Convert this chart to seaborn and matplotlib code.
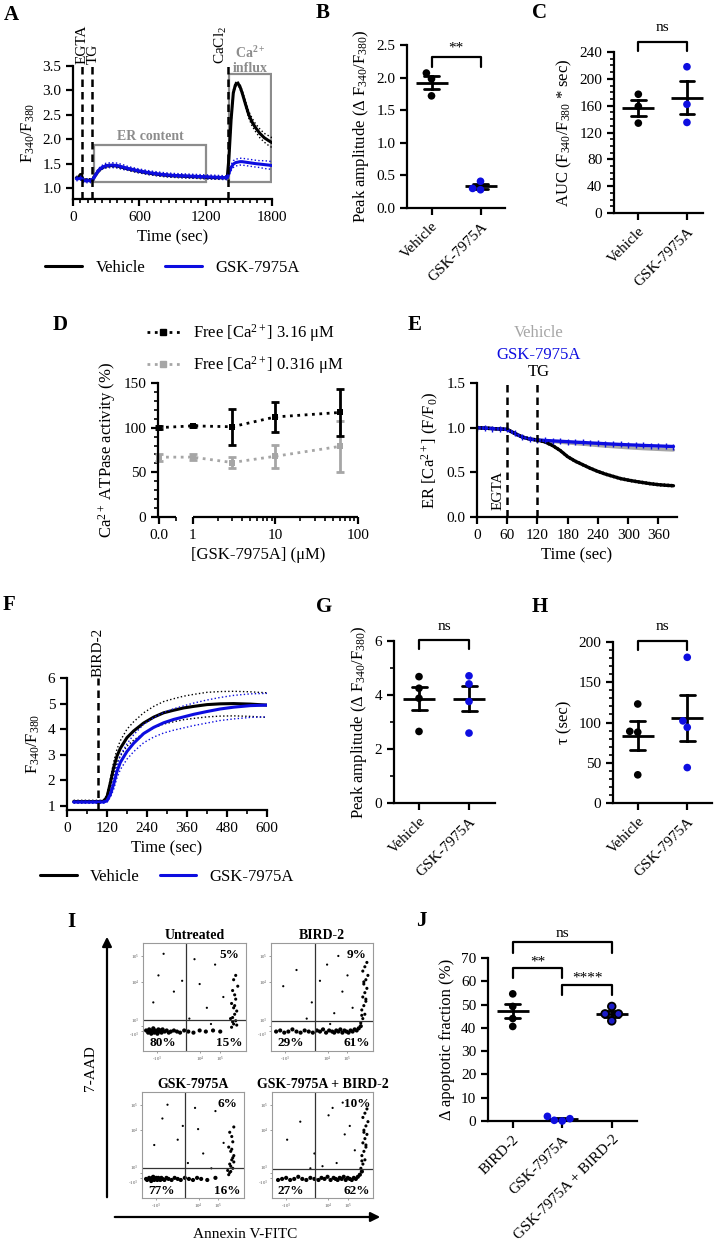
import numpy as np
import pandas as pd
import matplotlib
matplotlib.use("Agg")
import matplotlib.pyplot as plt
import seaborn as sns
from matplotlib.lines import Line2D
from matplotlib.patches import Rectangle, FancyArrowPatch
from matplotlib.ticker import MultipleLocator, AutoMinorLocator, FormatStrFormatter

# ---------------- data ----------------
# A: Fura-2 ratio, ER content / Ca2+ influx protocol
a_time = [30, 50, 65, 75, 85, 100, 130, 160, 175, 200, 230, 260, 300, 350, 400,
          450, 500, 600, 700, 800, 900, 1000, 1100, 1200, 1300, 1395, 1410, 1430,
          1450, 1470, 1490, 1510, 1530, 1560, 1590, 1620, 1650, 1690, 1730, 1770, 1800]
a_vehicle = [1.21, 1.21, 1.27, 1.28, 1.20, 1.16, 1.16, 1.16, 1.17, 1.25, 1.35, 1.41,
             1.45, 1.46, 1.45, 1.42, 1.39, 1.34, 1.30, 1.27, 1.25, 1.24, 1.23, 1.22,
             1.21, 1.21, 1.60, 2.40, 2.95, 3.12, 3.15, 3.08, 2.95, 2.72, 2.50, 2.35,
             2.24, 2.12, 2.03, 1.97, 1.93]
a_vehicle_sem = [0.03, 0.03, 0.03, 0.03, 0.03, 0.03, 0.03, 0.03, 0.03, 0.03, 0.03,
                 0.03, 0.03, 0.03, 0.03, 0.03, 0.03, 0.03, 0.03, 0.03, 0.03, 0.03,
                 0.03, 0.03, 0.03, 0.03, 0.05, 0.06, 0.05, 0.04, 0.04, 0.04, 0.05,
                 0.06, 0.07, 0.08, 0.08, 0.09, 0.09, 0.10, 0.10]
a_gsk = [1.19, 1.19, 1.20, 1.20, 1.17, 1.15, 1.15, 1.15, 1.16, 1.25, 1.36, 1.42,
         1.46, 1.47, 1.46, 1.43, 1.40, 1.35, 1.31, 1.28, 1.26, 1.25, 1.24, 1.23,
         1.22, 1.21, 1.30, 1.42, 1.49, 1.52, 1.53, 1.54, 1.54, 1.53, 1.52, 1.51,
         1.50, 1.49, 1.48, 1.47, 1.46]
a_gsk_sem = [0.04, 0.04, 0.04, 0.04, 0.04, 0.04, 0.04, 0.04, 0.04, 0.04, 0.04, 0.04,
             0.05, 0.05, 0.05, 0.05, 0.04, 0.04, 0.04, 0.04, 0.04, 0.04, 0.04, 0.04,
             0.04, 0.04, 0.05, 0.06, 0.07, 0.07, 0.07, 0.07, 0.07, 0.07, 0.07, 0.07,
             0.07, 0.07, 0.08, 0.08, 0.08]

# B, C: peak amplitude and AUC
b_vehicle = [2.07, 1.98, 1.72]
b_gsk = [0.41, 0.28, 0.30]
c_vehicle = [177, 159, 134]
c_gsk = [218, 162, 135]

# D: SERCA ATPase activity
d_conc = [0, 1, 3, 10, 60]
d_high = [100, 102, 101, 112, 117]
d_high_sem = [1.5, 1.5, 20, 16.5, 26]
d_low = [67, 67, 61, 68, 79]
d_low_sem = [4, 3.5, 6.5, 13, 29]

# E: ER Ca2+ (F/F0)
e_time = [0, 15, 30, 45, 60, 75, 90, 105, 120, 135, 150, 165, 180, 195, 210, 225,
          240, 255, 270, 285, 300, 315, 330, 345, 360, 375, 390]
e_tg = [1.0, 0.995, 0.99, 0.985, 0.98, 0.935, 0.895, 0.872, 0.862, 0.84, 0.80, 0.745,
        0.675, 0.625, 0.585, 0.545, 0.51, 0.48, 0.455, 0.43, 0.413, 0.398, 0.385,
        0.372, 0.362, 0.355, 0.35]
e_tg_sem = 0.012
e_vehicle = [1.0, 0.995, 0.99, 0.985, 0.98, 0.935, 0.895, 0.872, 0.862, 0.853, 0.845,
             0.837, 0.83, 0.822, 0.815, 0.808, 0.80, 0.793, 0.787, 0.781, 0.775, 0.77,
             0.765, 0.761, 0.757, 0.753, 0.75]
e_gsk = [1.0, 0.995, 0.99, 0.985, 0.98, 0.935, 0.895, 0.872, 0.862, 0.857, 0.852,
         0.848, 0.843, 0.838, 0.834, 0.829, 0.825, 0.82, 0.816, 0.812, 0.808, 0.805,
         0.801, 0.798, 0.795, 0.792, 0.789]

# F: BIRD-2 induced Ca2+ rise
f_time = [20, 40, 60, 80, 100, 110, 120, 130, 140, 150, 160, 180, 200, 230, 260, 290,
          320, 350, 380, 420, 460, 500, 550, 600]
f_vehicle = [1.17, 1.17, 1.17, 1.17, 1.17, 1.19, 1.35, 1.90, 2.50, 2.95, 3.25, 3.67,
             3.93, 4.24, 4.47, 4.64, 4.74, 4.83, 4.89, 4.96, 4.99, 5.00, 4.98, 4.94]
f_vehicle_sem = [0.05, 0.05, 0.05, 0.05, 0.05, 0.05, 0.08, 0.15, 0.22, 0.27, 0.30,
                 0.33, 0.36, 0.40, 0.42, 0.44, 0.45, 0.46, 0.47, 0.48, 0.48, 0.48,
                 0.48, 0.48]
f_gsk = [1.15, 1.15, 1.15, 1.15, 1.15, 1.15, 1.20, 1.45, 1.85, 2.35, 2.70, 3.13,
         3.45, 3.83, 4.07, 4.25, 4.38, 4.48, 4.58, 4.69, 4.79, 4.86, 4.92, 4.94]
f_gsk_sem = [0.04, 0.04, 0.04, 0.04, 0.04, 0.04, 0.05, 0.12, 0.20, 0.25, 0.28, 0.30,
             0.33, 0.36, 0.38, 0.40, 0.42, 0.43, 0.44, 0.45, 0.45, 0.46, 0.46, 0.46]

# G, H: peak amplitude and tau
g_vehicle = [4.68, 4.25, 3.88, 2.65]
g_gsk = [4.71, 4.41, 3.76, 2.59]
h_vehicle = [123, 89, 88, 35]
h_gsk = [181, 102, 94, 44]

# I: flow cytometry (display units of the biexponential axes)
# first 30 points: live band, next 18: apoptotic column, last 12: scattered events
ut_x = [0.03, 0.05, 0.06, 0.07, 0.08, 0.09, 0.10, 0.11, 0.12, 0.13, 0.14, 0.15, 0.16, 0.17, 0.18,
        0.19, 0.21, 0.23, 0.25, 0.27, 0.30, 0.33, 0.36, 0.40, 0.44, 0.49, 0.55, 0.61, 0.68, 0.75,
        0.86, 0.88, 0.90, 0.87, 0.89, 0.91, 0.88, 0.86, 0.90, 0.89, 0.87, 0.92, 0.88, 0.90, 0.85,
        0.89, 0.91, 0.87, 0.15, 0.30, 0.55, 0.70, 0.62, 0.45, 0.78, 0.20, 0.66, 0.10, 0.38, 0.50]
ut_y = [0.19, 0.17, 0.20, 0.18, 0.16, 0.19, 0.21, 0.17, 0.19, 0.18, 0.16, 0.20, 0.18, 0.19, 0.17,
        0.20, 0.18, 0.19, 0.17, 0.18, 0.19, 0.18, 0.17, 0.19, 0.18, 0.17, 0.19, 0.18, 0.19, 0.18,
        0.22, 0.25, 0.28, 0.31, 0.34, 0.37, 0.40, 0.44, 0.48, 0.52, 0.56, 0.60, 0.66, 0.70, 0.30,
        0.42, 0.24, 0.27, 0.70, 0.55, 0.62, 0.80, 0.40, 0.30, 0.50, 0.90, 0.25, 0.45, 0.65, 0.85]
bd_x = [0.05, 0.09, 0.13, 0.17, 0.21, 0.25, 0.29, 0.33, 0.37, 0.41, 0.45, 0.48, 0.51, 0.54, 0.57,
        0.60, 0.62, 0.64, 0.66, 0.68, 0.70, 0.72, 0.74, 0.76, 0.78, 0.80, 0.82, 0.84, 0.86, 0.88,
        0.88, 0.90, 0.92, 0.89, 0.91, 0.93, 0.90, 0.92, 0.94, 0.91, 0.93, 0.95, 0.90, 0.92, 0.94,
        0.89, 0.93, 0.91, 0.12, 0.25, 0.40, 0.55, 0.62, 0.70, 0.75, 0.80, 0.35, 0.66, 0.58, 0.48]
bd_y = [0.18, 0.19, 0.17, 0.18, 0.20, 0.18, 0.17, 0.19, 0.18, 0.17, 0.19, 0.18, 0.20, 0.17, 0.19,
        0.18, 0.17, 0.19, 0.18, 0.20, 0.17, 0.19, 0.18, 0.17, 0.19, 0.18, 0.20, 0.19, 0.21, 0.23,
        0.26, 0.30, 0.34, 0.38, 0.42, 0.46, 0.50, 0.54, 0.58, 0.62, 0.66, 0.70, 0.74, 0.78, 0.82,
        0.33, 0.48, 0.64, 0.60, 0.75, 0.45, 0.80, 0.35, 0.55, 0.70, 0.40, 0.30, 0.88, 0.25, 0.65]
gk_x = [0.04, 0.05, 0.07, 0.08, 0.09, 0.10, 0.11, 0.12, 0.13, 0.14, 0.15, 0.16, 0.17, 0.18, 0.19,
        0.20, 0.22, 0.24, 0.26, 0.29, 0.32, 0.35, 0.38, 0.42, 0.46, 0.50, 0.54, 0.58, 0.64, 0.72,
        0.85, 0.87, 0.89, 0.86, 0.88, 0.90, 0.87, 0.85, 0.89, 0.88, 0.86, 0.90, 0.87, 0.89, 0.84,
        0.88, 0.90, 0.86, 0.20, 0.35, 0.55, 0.72, 0.60, 0.45, 0.80, 0.25, 0.68, 0.12, 0.40, 0.52]
gk_y = [0.18, 0.17, 0.19, 0.18, 0.16, 0.19, 0.20, 0.17, 0.18, 0.19, 0.17, 0.19, 0.18, 0.17, 0.19,
        0.18, 0.17, 0.19, 0.18, 0.17, 0.19, 0.18, 0.17, 0.19, 0.18, 0.17, 0.19, 0.18, 0.17, 0.19,
        0.22, 0.25, 0.28, 0.32, 0.36, 0.40, 0.44, 0.48, 0.53, 0.58, 0.62, 0.67, 0.30, 0.38, 0.26,
        0.46, 0.34, 0.24, 0.75, 0.55, 0.65, 0.82, 0.42, 0.33, 0.52, 0.88, 0.28, 0.50, 0.68, 0.85]
cb_x = [0.06, 0.10, 0.14, 0.18, 0.22, 0.26, 0.30, 0.34, 0.38, 0.42, 0.46, 0.49, 0.52, 0.55, 0.58,
        0.61, 0.63, 0.65, 0.67, 0.69, 0.71, 0.73, 0.75, 0.77, 0.79, 0.81, 0.83, 0.85, 0.87, 0.89,
        0.88, 0.90, 0.92, 0.89, 0.91, 0.93, 0.90, 0.92, 0.94, 0.91, 0.93, 0.95, 0.90, 0.92, 0.94,
        0.89, 0.93, 0.91, 0.15, 0.28, 0.42, 0.56, 0.64, 0.72, 0.77, 0.82, 0.38, 0.60, 0.50, 0.70]
cb_y = [0.17, 0.18, 0.19, 0.17, 0.18, 0.20, 0.18, 0.17, 0.19, 0.18, 0.17, 0.19, 0.18, 0.20, 0.17,
        0.19, 0.18, 0.17, 0.19, 0.18, 0.20, 0.17, 0.19, 0.18, 0.17, 0.19, 0.18, 0.20, 0.22, 0.25,
        0.28, 0.32, 0.36, 0.40, 0.44, 0.48, 0.52, 0.56, 0.60, 0.64, 0.68, 0.72, 0.76, 0.80, 0.84,
        0.35, 0.50, 0.62, 0.55, 0.72, 0.42, 0.78, 0.33, 0.60, 0.68, 0.45, 0.28, 0.85, 0.30, 0.90]
flow_titles = ["Untreated", "BIRD-2", "GSK-7975A", "GSK-7975A + BIRD-2"]
flow_pcts = [["5%", "80%", "15%"], ["9%", "29%", "61%"],
             ["6%", "77%", "16%"], ["10%", "27%", "62%"]]

# J: apoptotic fraction
j_labels = ["BIRD-2", "GSK-7975A", "GSK-7975A + BIRD-2"]
j_bird = [54.6, 49.2, 44.0, 40.6]
j_gsk = [1.0, 0.3, 0.0, 2.0]
j_combo = [49.2, 46.0, 46.0, 43.0]

# ---------------- style ----------------
BLUE = "#0d0de0"
GRAY = "#a6a6a6"
BOXGRAY = "#8c8c8c"
W, H = 715, 1249

sns.set_style("ticks")
plt.rcParams['font.family'] = ['Liberation Serif', 'DejaVu Serif']
plt.rcParams.update({
    'mathtext.fontset': 'custom',
    'mathtext.rm': 'Liberation Serif',
    'mathtext.it': 'Liberation Serif:italic',
    'mathtext.bf': 'Liberation Serif:bold',
    'axes.edgecolor': 'black', 'axes.labelcolor': 'black', 'text.color': 'black',
    'xtick.color': 'black', 'ytick.color': 'black',
    'axes.linewidth': 1.6, 'xtick.major.width': 1.6, 'ytick.major.width': 1.6,
    'xtick.minor.width': 1.2, 'ytick.minor.width': 1.2,
    'xtick.major.size': 5, 'ytick.major.size': 5,
    'xtick.minor.size': 3, 'ytick.minor.size': 3,
    'xtick.labelsize': 11, 'ytick.labelsize': 11, 'axes.labelsize': 12,
})

fig = plt.figure(figsize=(W / 100, H / 100), dpi=100)


def add_ax(l, t, r, b):
    ax = fig.add_axes([l / W, 1 - b / H, (r - l) / W, (b - t) / H])
    ax.spines[['top', 'right']].set_visible(False)
    return ax


def panel_letter(x, y, s):
    fig.text(x / W, 1 - y / H, s, ha='left', va='center', fontsize=15, fontweight='bold')


def bracket(ax, x0, x1, y, leg, text, ty):
    ax.plot([x0, x0, x1, x1], [y - leg, y, y, y - leg], color='black', lw=1.6, clip_on=False)
    ax.text((x0 + x1) / 2, ty, text, ha='center', va='center', fontsize=11, clip_on=False)


def rotate_labels(ax):
    for lab in ax.get_xticklabels():
        lab.set_rotation(45)
        lab.set_ha('right')
        lab.set_rotation_mode('anchor')


def dot_panel(ax, values, labels, colors):
    df = pd.DataFrame({'group': np.repeat(labels, [len(v) for v in values]),
                       'value': np.concatenate(values)})
    sns.swarmplot(data=df, x='group', y='value', hue='group', order=labels,
                  palette=dict(zip(labels, colors)), size=5.5, legend=False, ax=ax)
    for coll in ax.collections:
        coll.set_clip_on(False)
    sns.pointplot(data=df, x='group', y='value', order=labels, errorbar='se',
                  color='black', marker='_', markersize=23, markeredgewidth=2,
                  linestyle='none', capsize=0.3, err_kws={'linewidth': 2}, ax=ax)
    ax.set_xlabel('')
    rotate_labels(ax)


def trace(ax, t, mean, sem, color, lw=2.2):
    sns.lineplot(x=t, y=mean, color=color, lw=lw, ax=ax)
    upper = np.array(mean) + np.array(sem)
    lower = np.array(mean) - np.array(sem)
    ax.plot(t, upper, ls=':', color=color, lw=1)
    ax.plot(t, lower, ls=':', color=color, lw=1)


# ---------------- A ----------------
ax = add_ax(73, 66, 272, 199)
trace(ax, a_time, a_vehicle, a_vehicle_sem, 'black')
trace(ax, a_time, a_gsk, a_gsk_sem, BLUE)
for xv in [85, 175, 1400]:
    ax.axvline(xv, color='black', ls='--', lw=1.8, dashes=(3, 2))
ax.add_patch(Rectangle((194, 1.12), 1006, 0.76, fill=False, ec=BOXGRAY, lw=1.6))
ax.add_patch(Rectangle((1410, 1.12), 378, 2.22, fill=False, ec=BOXGRAY, lw=1.6))
ax.text(700, 1.93, "ER content", color=BOXGRAY, fontweight='bold', fontsize=10,
        ha='center', va='bottom')
ax.text(1600, 3.62, "Ca$^{\\mathbf{2+}}$\ninflux", color=BOXGRAY, fontweight='bold',
        fontsize=10, ha='center', va='center', linespacing=1.1, clip_on=False)
ax.text(85, 3.55, "EGTA", rotation=90, ha='center', va='bottom', fontsize=11, clip_on=False)
ax.text(185, 3.55, "TG", rotation=90, ha='center', va='bottom', fontsize=11, clip_on=False)
ax.text(1335, 3.55, "CaCl$_2$", rotation=90, ha='center', va='bottom', fontsize=11,
        clip_on=False)
ax.set_xlim(0, 1800)
ax.set_ylim(0.775, 3.5)
ax.set_xticks([0, 600, 1200, 1800])
ax.xaxis.set_minor_locator(AutoMinorLocator(9))
ax.set_yticks([1.0, 1.5, 2.0, 2.5, 3.0, 3.5])
ax.yaxis.set_major_formatter(FormatStrFormatter('%.1f'))
ax.set_xlabel("Time (sec)")
ax.set_ylabel("F$_{340}$/F$_{380}$")
ax.legend(handles=[Line2D([], [], color='black', lw=2.2, label='Vehicle'),
                   Line2D([], [], color=BLUE, lw=2.2, label='GSK-7975A')],
          loc='center', bbox_to_anchor=(0.5, -0.52), ncol=2, frameon=False,
          fontsize=12, handlelength=2.2, columnspacing=1.2)
panel_letter(4, 15, "A")

# ---------------- B ----------------
ax = add_ax(407, 45, 505, 208)
dot_panel(ax, [b_vehicle, b_gsk], ["Vehicle", "GSK-7975A"], ['black', BLUE])
ax.set_xlim(-0.5, 1.5)
ax.set_ylim(0, 2.5)
ax.set_yticks([0, 0.5, 1.0, 1.5, 2.0, 2.5])
ax.yaxis.set_major_formatter(FormatStrFormatter('%.1f'))
ax.set_ylabel("Peak amplitude (Δ F$_{340}$/F$_{380}$)")
bracket(ax, 0, 1, 2.32, 0.15, "**", 2.46)
panel_letter(316, 13, "B")

# ---------------- C ----------------
ax = add_ax(614, 52, 703, 213)
dot_panel(ax, [c_vehicle, c_gsk], ["Vehicle", "GSK-7975A"], ['black', BLUE])
ax.set_xlim(-0.5, 1.33)
ax.set_ylim(0, 240)
ax.set_yticks(range(0, 241, 40))
ax.yaxis.set_minor_locator(MultipleLocator(10))
ax.set_ylabel("AUC (F$_{340}$/F$_{380}$ * sec)")
bracket(ax, 0, 1, 255, 14, "ns", 277)
panel_letter(532, 13, "C")

# ---------------- D ----------------
GAP = 0.412


def d_fwd(x):
    x = np.asarray(x, dtype=float)
    return np.where(x >= 1, np.log10(np.maximum(x, 1)), (x - 1) * GAP)


def d_inv(u):
    u = np.asarray(u, dtype=float)
    return np.where(u >= 0, 10 ** np.maximum(u, 0), u / GAP + 1)


ax = add_ax(158, 383, 358, 517)
df_d = pd.DataFrame({'conc': d_conc * 2, 'activity': d_low + d_high,
                     'ca': ['low'] * len(d_conc) + ['high'] * len(d_conc)})
ax.errorbar(d_conc, d_low, yerr=d_low_sem, fmt='none', ecolor=GRAY, elinewidth=2,
            capsize=3, capthick=2)
ax.errorbar(d_conc, d_high, yerr=d_high_sem, fmt='none', ecolor='black', elinewidth=2,
            capsize=3, capthick=2)
sns.lineplot(data=df_d, x='conc', y='activity', hue='ca', hue_order=['low', 'high'],
             palette={'low': GRAY, 'high': 'black'}, marker='s', markersize=5,
             markeredgewidth=0, linestyle=':', lw=2, legend=False, ax=ax)
for ln in ax.lines:
    ln.set_clip_on(False)
ax.set_xscale('function', functions=(d_fwd, d_inv))
ax.set_xlim(-0.02, 100)
ax.spines['bottom'].set_visible(False)
ax.plot([-0.02, 0.5], [0, 0], transform=ax.get_xaxis_transform(), color='black',
        lw=1.6, clip_on=False, solid_capstyle='butt')
ax.plot([1, 100], [0, 0], transform=ax.get_xaxis_transform(), color='black',
        lw=1.6, clip_on=False, solid_capstyle='butt')
ax.set_xticks([0, 1, 10, 100], labels=['0.0', '1', '10', '100'])
ax.set_xticks([0.5] + list(range(2, 10)) + list(range(20, 100, 10)), minor=True)
ax.set_ylim(0, 150)
ax.set_yticks([0, 50, 100, 150])
ax.yaxis.set_minor_locator(MultipleLocator(10))
ax.set_xlabel("[GSK-7975A] (μM)")
ax.set_ylabel("Ca$^{2+}$ ATPase activity (%)")
ax.legend(handles=[Line2D([], [], color='black', ls=':', lw=2, marker='s', markersize=5,
                          label="Free [Ca$^{2+}$] 3.16 μM"),
                   Line2D([], [], color=GRAY, ls=':', lw=2, marker='s', markersize=5,
                          label="Free [Ca$^{2+}$] 0.316 μM")],
          loc='lower left', bbox_to_anchor=(-0.09, 1.0), borderaxespad=0, frameon=False,
          fontsize=12, handlelength=2.0, labelspacing=0.6)
panel_letter(53, 325, "D")

# ---------------- E ----------------
ax = add_ax(477, 383, 677, 517)
df_e = pd.DataFrame({'t': e_time * 3, 'ratio': e_vehicle + e_tg + e_gsk,
                     'group': ['Vehicle'] * len(e_time) + ['TG'] * len(e_time)
                     + ['GSK-7975A'] * len(e_time)})
sns.lineplot(data=df_e, x='t', y='ratio', hue='group',
             hue_order=['Vehicle', 'TG', 'GSK-7975A'],
             palette={'Vehicle': GRAY, 'TG': 'black', 'GSK-7975A': BLUE},
             lw=2.4, legend=False, ax=ax)
ax.plot(e_time, np.array(e_tg) + e_tg_sem, ls=':', color='black', lw=1)
ax.plot(e_time, np.array(e_tg) - e_tg_sem, ls=':', color='black', lw=1)
ax.plot(e_time, e_gsk, ls='none', marker='|', markersize=4, color=BLUE, mew=1)
for xv in [60, 120]:
    ax.axvline(xv, color='black', ls='--', lw=1.8, dashes=(3, 2))
ax.text(42, 0.08, "EGTA", rotation=90, ha='center', va='bottom', fontsize=11)
ax.text(122, 1.53, "TG", ha='center', va='bottom', fontsize=12, clip_on=False)
ax.text(122, 1.81, "GSK-7975A", color=BLUE, ha='center', va='center', fontsize=12,
        clip_on=False)
ax.text(122, 2.06, "Vehicle", color=GRAY, ha='center', va='center', fontsize=12,
        clip_on=False)
ax.set_xlim(0, 397)
ax.set_ylim(0, 1.5)
ax.set_xticks(range(0, 361, 60))
ax.set_yticks([0, 0.5, 1.0, 1.5])
ax.yaxis.set_major_formatter(FormatStrFormatter('%.1f'))
ax.set_xlabel("Time (sec)")
ax.set_ylabel("ER [Ca$^{2+}$] (F/F$_0$)")
panel_letter(408, 325, "E")

# ---------------- F ----------------
ax = add_ax(67, 678, 267, 810)
trace(ax, f_time, f_vehicle, f_vehicle_sem, 'black')
trace(ax, f_time, f_gsk, f_gsk_sem, BLUE)
ax.axvline(93, color='black', ls='--', lw=1.8, dashes=(3, 2))
ax.text(93, 6.05, "BIRD-2", rotation=90, ha='center', va='bottom', fontsize=11,
        clip_on=False)
ax.set_xlim(0, 600)
ax.set_ylim(0.84, 6)
ax.set_xticks(range(0, 601, 120))
ax.xaxis.set_minor_locator(MultipleLocator(60))
ax.set_yticks(range(1, 7))
ax.set_xlabel("Time (sec)")
ax.set_ylabel("F$_{340}$/F$_{380}$")
ax.legend(handles=[Line2D([], [], color='black', lw=2.2, label='Vehicle'),
                   Line2D([], [], color=BLUE, lw=2.2, label='GSK-7975A')],
          loc='center', bbox_to_anchor=(0.5, -0.51), ncol=2, frameon=False,
          fontsize=12, handlelength=2.2, columnspacing=1.2)
panel_letter(3, 605, "F")

# ---------------- G ----------------
ax = add_ax(394, 641, 495, 803)
dot_panel(ax, [g_vehicle, g_gsk], ["Vehicle", "GSK-7975A"], ['black', BLUE])
ax.set_xlim(-0.5, 1.52)
ax.set_ylim(0, 6)
ax.set_yticks([0, 2, 4, 6])
ax.yaxis.set_minor_locator(MultipleLocator(1))
ax.set_ylabel("Peak amplitude (Δ F$_{340}$/F$_{380}$)")
bracket(ax, 0, 1, 6.03, 0.33, "ns", 6.55)
panel_letter(316, 607, "G")

# ---------------- H ----------------
ax = add_ax(613, 642, 712, 803)
dot_panel(ax, [h_vehicle, h_gsk], ["Vehicle", "GSK-7975A"], ['black', BLUE])
ax.set_xlim(-0.5, 1.5)
ax.set_ylim(0, 200)
ax.set_yticks(range(0, 201, 50))
ax.yaxis.set_minor_locator(MultipleLocator(10))
ax.set_ylabel("τ (sec)")
bracket(ax, 0, 1, 201, 11, "ns", 219)
panel_letter(532, 607, "H")

# ---------------- I ----------------
flow_kind = ['band'] * 30 + ['column'] * 18 + ['scatter'] * 12
flow_sizes = {'band': 9, 'column': 5, 'scatter': 2.5}
flow_rects = [(143, 943, 246, 1051), (271, 943, 373, 1051),
              (142, 1092, 244, 1198), (272, 1092, 373, 1198)]
flow_gates = [(0.42, 0.29), (0.43, 0.28), (0.42, 0.286), (0.426, 0.277)]
flow_points = [(ut_x, ut_y), (bd_x, bd_y), (gk_x, gk_y), (cb_x, cb_y)]
flow_ytick_pos = [0.185, 0.232, 0.638, 0.876]
flow_xtick_pos = [0.136, 0.557, 0.75]
for rect, gate, (fx, fy), title, pcts in zip(flow_rects, flow_gates, flow_points,
                                             flow_titles, flow_pcts):
    ax = fig.add_axes([rect[0] / W, 1 - rect[3] / H, (rect[2] - rect[0]) / W,
                       (rect[3] - rect[1]) / H])
    sns.scatterplot(x=fx, y=fy, size=flow_kind, sizes=flow_sizes, color='black',
                    linewidth=0, ax=ax, legend=False)
    ax.axvline(gate[0], color='#333333', lw=0.9)
    ax.axhline(gate[1], color='#333333', lw=0.9)
    ax.set_xlim(0, 1)
    ax.set_ylim(0, 1)
    for sp in ax.spines.values():
        sp.set_color('#9a9a9a')
        sp.set_linewidth(0.8)
    ax.set_yticks(flow_ytick_pos, labels=['-10$^{3}$', '10$^{3}$', '10$^{4}$', '10$^{5}$'])
    ax.set_xticks(flow_xtick_pos, labels=['-10$^{3}$', '10$^{4}$', '10$^{5}$'])
    ax.tick_params(labelsize=3.5, labelcolor='#555555', length=1.5, width=0.5,
                   color='#777777', pad=1)
    ylabs = ax.get_yticklabels()
    ylabs[0].set_va('top')
    ylabs[1].set_va('bottom')
    ax.set_title(title, fontsize=10, fontweight='bold', pad=3)
    ax.text(0.84, 0.89, pcts[0], transform=ax.transAxes, ha='center', va='center',
            fontsize=9.5, fontweight='bold')
    ax.text(0.19, 0.07, pcts[1], transform=ax.transAxes, ha='center', va='center',
            fontsize=9.5, fontweight='bold')
    ax.text(0.84, 0.07, pcts[2], transform=ax.transAxes, ha='center', va='center',
            fontsize=9.5, fontweight='bold')

fig.add_artist(FancyArrowPatch((107 / W, 1 - 1200 / H), (107 / W, 1 - 934 / H),
                               transform=fig.transFigure, arrowstyle='-|>',
                               mutation_scale=14, lw=1.6, color='black'))
fig.add_artist(FancyArrowPatch((112 / W, 1 - 1217 / H), (383 / W, 1 - 1217 / H),
                               transform=fig.transFigure, arrowstyle='-|>',
                               mutation_scale=14, lw=1.6, color='black'))
fig.text(90 / W, 1 - 1068 / H, "7-AAD", rotation=90, ha='center', va='center', fontsize=11)
fig.text(245 / W, 1 - 1234 / H, "Annexin V-FITC", ha='center', va='center', fontsize=11)
panel_letter(67, 922, "I")

# ---------------- J ----------------
ax = add_ax(488, 958, 637, 1121)
dot_panel(ax, [j_bird, j_gsk, j_combo], j_labels, ['black', BLUE, '#1c1cc8'])
ax.collections[2].set_edgecolor('black')
ax.collections[2].set_linewidth(1.3)
ax.set_xlim(-0.5, 2.51)
ax.set_ylim(0, 70)
ax.set_yticks(range(0, 71, 10))
ax.set_ylabel("Δ apoptotic fraction (%)")
bracket(ax, 0, 2, 77, 4.7, "ns", 80.6)
bracket(ax, 0, 1, 65.8, 4.6, "**", 68.4)
bracket(ax, 1, 2, 58.6, 4.6, "****", 61.4)
panel_letter(416, 921, "J")

fig.savefig("out.png", dpi=100, facecolor='white')
